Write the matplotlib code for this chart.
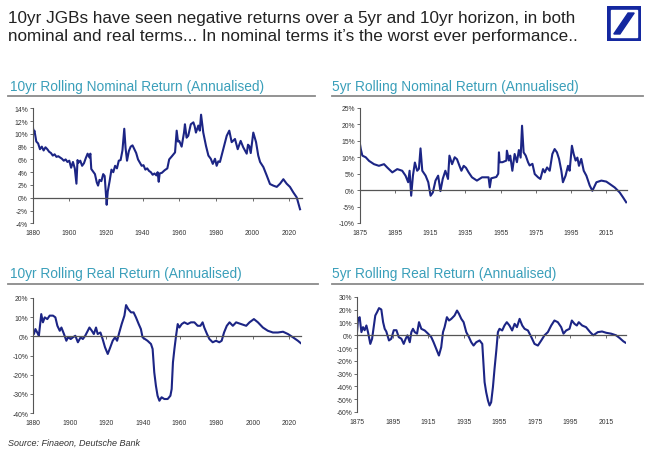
import matplotlib
matplotlib.use("Agg")
import matplotlib.pyplot as plt
from matplotlib.patches import Rectangle, Polygon

plt.rcParams['font.family'] = ['Liberation Sans', 'DejaVu Sans']

# ---- data (year, % annualised return) ----
nom10_year = [1880, 1880.5, 1881, 1882, 1883, 1884, 1885, 1886, 1887, 1888, 1889, 1890,
              1891, 1892, 1893, 1894, 1895, 1896, 1897, 1898, 1899, 1900, 1901, 1902,
              1903, 1903.9, 1904.5, 1905, 1906, 1907, 1908, 1909, 1910, 1911, 1911.5, 1912,
              1913, 1914, 1915, 1915.7, 1916.5, 1917.5, 1918.5, 1919.3, 1920.4, 1921, 1922,
              1923, 1924, 1925, 1926, 1927, 1928, 1929, 1930, 1930.7, 1931.5, 1932.5, 1933.5,
              1934.5, 1935.5, 1936.5, 1937.5, 1938.5, 1939.5, 1940.5, 1941.5, 1942.5, 1943.5,
              1944.5, 1945.5, 1946.5, 1947.5, 1948.2, 1948.8, 1949.3, 1950.5, 1952, 1953.5,
              1954.5, 1956, 1957.7, 1958.6, 1959.3, 1960, 1961.3, 1962.6, 1963.1, 1964,
              1964.9, 1966.3, 1967.7, 1968.4, 1969.1, 1970.4, 1971.2, 1971.9, 1973.1, 1974.6,
              1975.9, 1977.2, 1978.3, 1979.5, 1980.4, 1981.3, 1982.2, 1984, 1985.9, 1987.3,
              1988.6, 1990.4, 1991.9, 1993.5, 1994.9, 1996.8, 1997.5, 1998.2, 1999, 2000.4,
              2001.9, 2003.1, 2004.1, 2005.9, 2007.7, 2009.5, 2011.3, 2013.2, 2015, 2016.8,
              2018.6, 2020.4, 2022.2, 2024.1, 2025.9]
nom10_val = [11.5, 10.2, 10.5, 8.8, 8.5, 7.6, 8.0, 7.4, 7.9, 7.6, 7.2, 7.0,
             6.6, 6.8, 6.4, 6.5, 6.3, 6.1, 5.8, 6.0, 5.6, 5.8, 4.7, 5.6,
             4.6, 2.2, 5.9, 5.5, 5.8, 5.0, 5.4, 6.2, 6.9, 6.3, 6.9, 4.5,
             4.1, 3.7, 2.4, 1.9, 2.8, 2.6, 3.7, 3.4, -1.1, 1.0, 2.6,
             4.4, 4.0, 5.0, 4.6, 5.8, 5.9, 7.4, 10.8, 7.8, 5.8, 7.3, 8.0,
             8.2, 7.6, 7.0, 6.0, 5.5, 5.0, 5.1, 4.4, 4.6, 4.2,
             4.0, 3.6, 3.8, 3.5, 4.0, 2.5, 3.8, 3.9, 4.3, 4.6,
             6.0, 6.5, 7.1, 10.5, 8.8, 8.9, 8.0, 10.2, 11.5, 9.4,
             9.7, 11.5, 11.8, 11.2, 10.2, 11.3, 10.5, 13.0, 10.2, 8.1,
             6.6, 6.1, 5.3, 6.1, 5.0, 5.7, 5.6, 7.6, 9.7, 10.5,
             8.7, 9.2, 7.6, 8.9, 7.9, 6.9, 8.3, 8.1, 7.0, 10.2,
             8.7, 6.6, 5.6, 4.8, 3.5, 2.15, 1.9, 1.7, 2.2, 2.9,
             2.2, 1.7, 0.85, 0.05, -1.8]

nom5_year = [1875, 1875.6, 1876.5, 1878.4, 1880.3, 1883.1, 1885.9, 1888.8, 1890.6, 1893.5,
             1896.3, 1899.1, 1901, 1902.5, 1903.3, 1904.2, 1905.2, 1906.3, 1907.6, 1908.6,
             1909.5, 1910.5, 1912.4, 1913.9, 1915.2, 1916.5, 1918, 1919.5, 1920.8, 1922.1,
             1923.6, 1925.1, 1925.9, 1927.4, 1928.9, 1930.2, 1931.6, 1932.7, 1934, 1935.3,
             1936.8, 1938.7, 1941.5, 1944.4, 1948.1, 1948.8, 1949.6, 1952.5, 1953.6, 1954,
             1954.4, 1956, 1958.2, 1958.5, 1959.7, 1960.4, 1961.6, 1962.9, 1964.2, 1965.3,
             1966.3, 1967.1, 1968, 1969.2, 1970.5, 1971.4, 1973, 1974.3, 1976.2, 1977.5,
             1979, 1980, 1981.3, 1982.8, 1984.3, 1985.6, 1986.9, 1988.1, 1989.4, 1990.3,
             1991.8, 1993.2, 1994.1, 1995.4, 1996.4, 1997.5, 1998.5, 1999.4, 2000.7, 2002.1,
             2003.6, 2005.5, 2007, 2007.9, 2009.3, 2012.1, 2014.9, 2016.8, 2019.7, 2022.5,
             2024.4, 2026.2]
nom5_val = [14.5, 12.5, 10.5, 10.0, 8.9, 7.9, 7.4, 7.9, 6.9, 5.4,
            6.4, 5.9, 4.4, 2.4, 5.9, -1.7, 4.4, 8.4, 5.9, 6.5,
            12.7, 5.9, 4.4, 2.4, -1.7, -0.7, 2.9, 4.4, -0.3, 3.4,
            5.9, 3.4, 10.5, 7.9, 10.0, 9.4, 7.4, 5.9, 7.4, 6.8,
            5.4, 3.9, 2.9, 3.9, 3.9, 0.85, 3.6, 4.0, 5.0, 11.5,
            8.5, 8.5, 9.0, 12.0, 9.0, 10.5, 5.9, 11.0, 8.5, 12.2,
            9.9, 19.6, 11.5, 10.5, 8.5, 7.5, 8.0, 4.9, 3.9, 3.4,
            6.4, 5.4, 6.9, 5.9, 11.0, 12.5, 11.5, 9.5, 5.9, 2.4,
            4.4, 7.4, 5.9, 13.5, 11.0, 9.0, 9.9, 7.4, 9.5, 5.9,
            4.4, 1.4, -0.2, 0.8, 2.4, 2.9, 2.6, 1.9, 0.8, -0.7,
            -2.2, -3.7]

real10_year = [1880, 1880.5, 1881.3, 1882.3, 1883.2, 1883.8, 1884.5, 1885.4, 1886.4, 1887.8,
               1889.1, 1890.9, 1892.2, 1893.3, 1894.6, 1895.5, 1896.9, 1898.2, 1899.1, 1900.6,
               1901.8, 1903.1, 1904.5, 1906, 1907.2, 1908.5, 1909.9, 1910.8, 1912.1, 1913.2,
               1914.4, 1915.3, 1916.8, 1918, 1919.3, 1920.8, 1922.2, 1923.5, 1924.8, 1925.9,
               1927.1, 1928.4, 1929.9, 1930.8, 1932, 1933.5, 1934.9, 1936.2, 1937.7, 1938.9,
               1939.8, 1941.1, 1942.5, 1944.4, 1945.3, 1946.2, 1947.1, 1948, 1949, 1950.2,
               1951.7, 1953.5, 1955, 1955.7, 1956.4, 1957.2, 1958.1, 1959, 1959.9, 1961.2,
               1962.6, 1964.4, 1966.2, 1968.1, 1969.9, 1971.4, 1972.6, 1973.5, 1975, 1976.3,
               1978.1, 1979.9, 1981.7, 1983, 1984.3, 1985.8, 1987.3, 1989.1, 1990.9, 1993.6,
               1996.4, 1998.2, 2000.6, 2002.8, 2005.5, 2008.2, 2011, 2013.7, 2016.5, 2019.2,
               2021.9, 2024.6, 2026.1]
real10_val = [3.0, 1.2, 3.8, 2.0, 0.3, 5.5, 11.6, 7.3, 9.9, 9.0,
              10.8, 10.8, 9.9, 5.5, 2.9, 4.6, 1.2, -2.3, -0.5, -1.4,
              -0.5, 0.3, -3.1, -0.5, -1.4, 0.3, 2.9, 4.6, 2.9, 1.2,
              4.6, 1.2, 2.0, -1.4, -5.7, -9.2, -5.7, -2.3, -0.5, -2.3,
              2.0, 6.4, 10.8, 16.3, 14.2, 12.5, 12.5, 9.9, 6.4, 3.8,
              -0.5, -1.4, -2.3, -4.0, -6.6, -18.8, -25.8, -31.0, -33.6, -31.8,
              -32.7, -32.7, -31.0, -27.5, -13.6, -6.6, 0.3, 6.4, 4.6, 6.4,
              7.3, 6.4, 7.3, 7.3, 5.5, 5.5, 7.3, 4.6, 1.2, -1.4,
              -3.1, -2.3, -3.1, -2.3, 2.0, 5.5, 7.3, 5.5, 7.3, 6.4,
              5.5, 7.3, 9.0, 7.3, 4.6, 2.9, 2.0, 2.0, 2.4, 1.2,
              -0.5, -2.3, -3.5]

real5_year = [1875, 1875.6, 1876.5, 1877.5, 1878.4, 1879.3, 1880.3, 1881.2, 1882.5, 1883.5,
              1884.4, 1885.3, 1886.3, 1887.4, 1888.7, 1889.7, 1890.6, 1891.5, 1893, 1894.3,
              1895.7, 1897.2, 1898.5, 1900, 1901.3, 1902.4, 1903.4, 1904.7, 1905.6, 1906.5,
              1907.5, 1908.8, 1909.9, 1911.2, 1913.1, 1915, 1916.8, 1918.1, 1919.6, 1921.1,
              1922.4, 1923.4, 1924.3, 1925.6, 1926.8, 1928.1, 1929.9, 1931.3, 1932.4, 1933.7,
              1935, 1936.5, 1938, 1939.3, 1940.6, 1942.1, 1944, 1945.5, 1946.8, 1947.7,
              1948.7, 1949.6, 1950.5, 1951.5, 1952.4, 1953.4, 1954.3, 1955.2, 1956.7, 1958,
              1959.3, 1960.8, 1962.3, 1963.7, 1965, 1966.5, 1968, 1969.3, 1971.2, 1973.1,
              1974.9, 1976.8, 1978.7, 1980.5, 1982.4, 1984.3, 1986.1, 1988, 1989.9, 1991.2,
              1992.7, 1994.6, 1995.9, 1997.4, 1998.7, 1999.8, 2001.7, 2003.9, 2006.2, 2008,
              2010.5, 2012.9, 2015.2, 2018, 2020.8, 2022.7, 2024.9, 2026]
real5_val = [2.0, 12.9, 14.2, 2.5, 6.4, 4.0, 7.7, 2.5, -6.7, -2.7,
             6.4, 15.5, 18.1, 21.3, 20.2, 10.3, 5.1, 3.0, -4.0, -2.7,
             4.0, 4.0, -1.4, -2.7, -6.7, -2.7, 0.0, -5.4, 2.5, 5.1,
             2.5, 1.3, 10.3, 5.1, 3.8, 1.3, -1.4, -5.4, -10.6, -15.8,
             -9.3, 2.5, 6.4, 14.2, 11.6, 12.9, 15.5, 19.4, 16.8, 12.9,
             10.3, 2.5, -1.4, -5.4, -8.0, -5.4, -4.0, -6.7, -36.6, -44.5,
             -51.0, -54.9, -52.4, -40.5, -26.2, -11.9, 2.5, 5.1, 3.8, 7.7,
             10.3, 7.7, 3.8, 9.0, 6.4, 12.9, 7.7, 5.1, 3.8, -1.4,
             -6.7, -8.0, -4.0, 0.0, 2.5, 7.7, 11.6, 10.3, 6.4, 1.3,
             3.8, 5.1, 11.6, 9.0, 7.7, 10.3, 7.7, 6.4, 2.5, 0.0,
             2.5, 3.0, 2.0, 1.3, 0.0, -2.0, -4.7, -5.7]

panels = [
    dict(title="10yr Rolling Nominal Return (Annualised)", x=nom10_year, y=nom10_val,
         xlim=(1880, 2027), xticks=range(1880, 2021, 20), ylim=(-4, 14), ystep=2,
         rect=[0.0502, 0.5081, 0.4145, 0.2522], tx=10, ty=87, line=(8, 315, 97)),
    dict(title="5yr Rolling Nominal Return (Annualised)", x=nom5_year, y=nom5_val,
         xlim=(1875, 2026.5), xticks=range(1875, 2016, 20), ylim=(-10, 25), ystep=5,
         rect=[0.5534, 0.5088, 0.4108, 0.2522], tx=332, ty=87, line=(332, 643, 97)),
    dict(title="10yr Rolling Real Return (Annualised)", x=real10_year, y=real10_val,
         xlim=(1880, 2026.5), xticks=range(1880, 2021, 20), ylim=(-40, 20), ystep=10,
         rect=[0.0508, 0.0921, 0.4128, 0.2522], tx=10, ty=274, line=(8, 318, 285)),
    dict(title="5yr Rolling Real Return (Annualised)", x=real5_year, y=real5_val,
         xlim=(1875, 2026.2), xticks=range(1875, 2016, 20), ylim=(-60, 30), ystep=10,
         rect=[0.5492, 0.0943, 0.4134, 0.2522], tx=332, ty=274, line=(332, 643, 285)),
]

W, H = 650, 456
fig = plt.figure(figsize=(6.5, 4.56), dpi=100)
fig.patch.set_facecolor('white')

teal = '#3a9fba'
navy = '#1c2585'
axis_col = '#555555'

fig.text(8 / W, 1 - 11 / H,
         "10yr JGBs have seen negative returns over a 5yr and 10yr horizon, in both\n"
         "nominal and real terms... In nominal terms it\u2019s the worst ever performance..",
         fontsize=12.3, color='#222222', va='top', ha='left', linespacing=1.25)

for p in panels:
    fig.text(p['tx'] / W, 1 - p['ty'] / H, p['title'], fontsize=9.9, color=teal,
             va='center', ha='left')
    x0, x1, yl = p['line']
    fig.add_artist(plt.Line2D([x0 / W, x1 / W], [1 - yl / H, 1 - yl / H],
                              color='#8a8a8a', lw=1.3, transform=fig.transFigure))

    ax = fig.add_axes(p['rect'])
    ax.plot(p['x'], p['y'], color=navy, lw=1.5, solid_joinstyle='round')
    ax.set_xlim(*p['xlim'])
    ax.set_ylim(*p['ylim'])
    lo, hi = p['ylim']
    yt = list(range(lo, hi + 1, p['ystep']))
    ax.set_yticks(yt)
    ax.set_yticklabels([f"{v}%" for v in yt])
    for s in ['top', 'right']:
        ax.spines[s].set_visible(False)
    ax.spines['left'].set_color(axis_col)
    ax.spines['left'].set_linewidth(0.8)
    # the category axis crosses at zero, labels stay low
    ax.spines['bottom'].set_position(('data', 0))
    ax.spines['bottom'].set_color(axis_col)
    ax.spines['bottom'].set_linewidth(0.9)
    ax.set_xticks(list(p['xticks']))
    ax.tick_params(axis='x', direction='out', length=2, width=0.6, color=axis_col,
                   labelbottom=False)
    ax.tick_params(axis='y', direction='out', length=2, width=0.6, color=axis_col,
                   labelsize=4.9, labelcolor='#333333', pad=1.5)
    sec = ax.secondary_xaxis('bottom')
    sec.spines['bottom'].set_visible(False)
    sec.set_xticks(list(p['xticks']))
    sec.tick_params(length=0, labelsize=4.9, labelcolor='#333333', pad=4)

fig.text(8 / W, 1 - 443 / H, "Source: Finaeon, Deutsche Bank", fontsize=6.5,
         style='italic', color='#333333', va='center', ha='left')

# Deutsche Bank logo
lax = fig.add_axes([607 / W, 1 - 42 / H, 34 / W, 35 / H])
lax.set_xlim(0, 1)
lax.set_ylim(0, 1)
lax.axis('off')
db_blue = '#1428a0'
lax.add_patch(Rectangle((0, 0), 1, 1, color=db_blue))
lax.add_patch(Rectangle((0.12, 0.12), 0.76, 0.76, color='white'))
lax.add_patch(Polygon([(0.2, 0.2), (0.38, 0.2), (0.8, 0.8), (0.62, 0.8)], color=db_blue))

fig.savefig("out.png", dpi=100, facecolor='white')
